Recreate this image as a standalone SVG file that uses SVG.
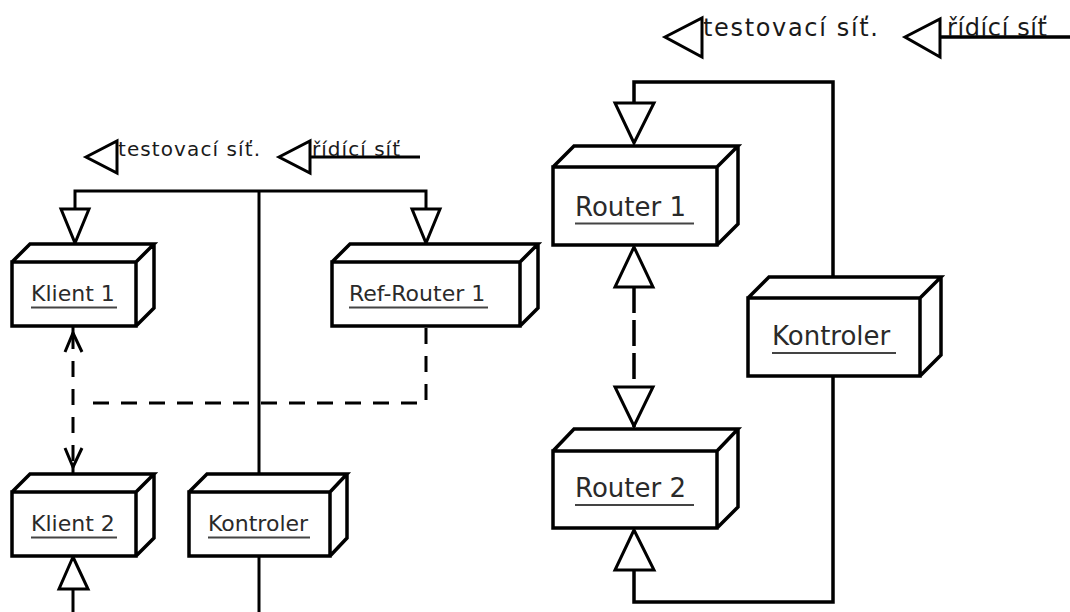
<svg xmlns="http://www.w3.org/2000/svg" width="1070" height="612" viewBox="0 0 1070 612">
  <style>
    .ln { fill: none; stroke: #000; stroke-width: 3; }
    .lnR { fill: none; stroke: #000; stroke-width: 3.5; }
    .dash { fill: none; stroke: #000; stroke-width: 3; stroke-dasharray: 16 12; }
    .ldash { fill: none; stroke: #000; stroke-width: 3.5; stroke-dasharray: 26 7; }
    .tri { fill: #fff; stroke: #000; stroke-width: 3; stroke-linejoin: miter; }
    .box { fill: #fff; stroke: #000; stroke-width: 3.5; stroke-linejoin: miter; }
    .lbl { font-family: "DejaVu Sans", "Liberation Sans", sans-serif; fill: #2a2a2a; }
    .lgd { font-family: "DejaVu Sans", "Liberation Sans", sans-serif; fill: #1a1a1a; }
    .ul { stroke: #444; stroke-width: 2; }
  </style>

  <!-- connectors -->
  <g id="connectors">
    <!-- left legend -->
    <path class="ln" d="M310,157 H420"/>
    <polygon class="tri" points="86,157 117,141 117,173"/>
    <polygon class="tri" points="279,157 310,141 310,173"/>

    <!-- left bus -->
    <path class="ln" d="M75,209 V191 H426 V209"/>
    <path class="ln" d="M259,191 V474"/>
    <path class="ln" d="M259,556 V612"/>
    <polygon class="tri" points="61,209 89,209 75,243"/>
    <polygon class="tri" points="412,209 440,209 426,243"/>

    <!-- dashed links between Klient 1, Klient 2 and Ref-Router 1 -->
    <path class="dash" d="M426,328 V403 H82"/>
    <path class="dash" stroke-dasharray="0 34 13 17" d="M73,333 V467"/>
    <path class="ln" d="M73,327 V336"/>
    <path class="ln" d="M73,464 V473"/>
    <path class="ln" d="M65,352 L73,333 L82,352"/>
    <path class="ln" d="M65,448 L73,467 L82,448"/>

    <!-- Klient 2 uplink -->
    <path class="ln" d="M73,589 V612"/>
    <polygon class="tri" points="73,557 59,589 88,589"/>

    <!-- right legend -->
    <path class="lnR" d="M940,37 H1070"/>
    <polygon class="tri" stroke-width="3.5" points="665,37 702,18 702,57"/>
    <polygon class="tri" stroke-width="3.5" points="905,37 940,19 940,57"/>

    <!-- right loop through the controller -->
    <path class="lnR" d="M634,103 V82 H833 V277"/>
    <path class="lnR" d="M833,376 V602 H634 V570"/>
    <polygon class="tri" stroke-width="3.5" points="615,103 654,103 634,143"/>
    <polygon class="tri" stroke-width="3.5" points="634,530 615,570 654,570"/>

    <!-- Router 1 <-> Router 2 -->
    <path class="ldash" d="M634,287 V427"/>
    <polygon class="tri" stroke-width="3.5" points="634,247 615,287 653,287"/>
    <polygon class="tri" fill="none" stroke-width="3.5" points="615,387 653,387 634,426"/>
  </g>

  <!-- legend texts -->
  <g id="legend-left">
    <text class="lgd" x="118" y="156" font-size="20" textLength="142" lengthAdjust="spacing">testovací síť.</text>
    <text class="lgd" x="312" y="156" font-size="20" textLength="88" lengthAdjust="spacing">řídící síť</text>
  </g>
  <g id="legend-right">
    <text class="lgd" x="703" y="36" font-size="24" textLength="175" lengthAdjust="spacing">testovací síť.</text>
    <text class="lgd" x="947" y="36" font-size="24" textLength="100" lengthAdjust="spacing">řídící síť</text>
  </g>

  <!-- nodes -->
  <g id="klient1">
    <path class="box" d="M12,262 H136 V326 H12 Z M12,262 L30,244 H154 L136,262 M154,244 V308 L136,326"/>
    <text class="lbl" x="31" y="301" font-size="22">Klient 1</text>
    <line class="ul" x1="31" y1="307.5" x2="117" y2="307.5"/>
  </g>

  <g id="ref-router1">
    <path class="box" d="M332,262 H520 V326 H332 Z M332,262 L350,244 H538 L520,262 M538,244 V308 L520,326"/>
    <text class="lbl" x="349" y="301" font-size="22">Ref-Router 1</text>
    <line class="ul" x1="349" y1="307.5" x2="488" y2="307.5"/>
  </g>

  <g id="klient2">
    <path class="box" d="M12,492 H136 V556 H12 Z M12,492 L30,474 H154 L136,492 M154,474 V538 L136,556"/>
    <text class="lbl" x="31" y="531" font-size="22">Klient 2</text>
    <line class="ul" x1="31" y1="537.5" x2="117" y2="537.5"/>
  </g>

  <g id="kontroler-left">
    <path class="box" d="M189,492 H330 V556 H189 Z M189,492 L207,474 H347 L330,492 M347,474 V538 L330,556"/>
    <text class="lbl" x="208" y="531" font-size="22">Kontroler</text>
    <line class="ul" x1="208" y1="537.5" x2="310" y2="537.5"/>
  </g>

  <g id="router1">
    <path class="box" d="M553,167 H717 V245 H553 Z M553,167 L574,146 H738 L717,167 M738,146 V224 L717,245"/>
    <text class="lbl" x="575" y="216" font-size="26">Router 1</text>
    <line class="ul" x1="575" y1="223.5" x2="694" y2="223.5"/>
  </g>

  <g id="kontroler-right">
    <path class="box" d="M748,298 H920 V376 H748 Z M748,298 L769,277 H941 L920,298 M941,277 V355 L920,376"/>
    <text class="lbl" x="772" y="345" font-size="26">Kontroler</text>
    <line class="ul" x1="772" y1="353" x2="896" y2="353"/>
  </g>

  <g id="router2">
    <path class="box" d="M553,451 H717 V528 H553 Z M553,451 L574,429 H738 L717,451 M738,429 V507 L717,528"/>
    <text class="lbl" x="575" y="497" font-size="26">Router 2</text>
    <line class="ul" x1="575" y1="505" x2="694" y2="505"/>
  </g>
</svg>
